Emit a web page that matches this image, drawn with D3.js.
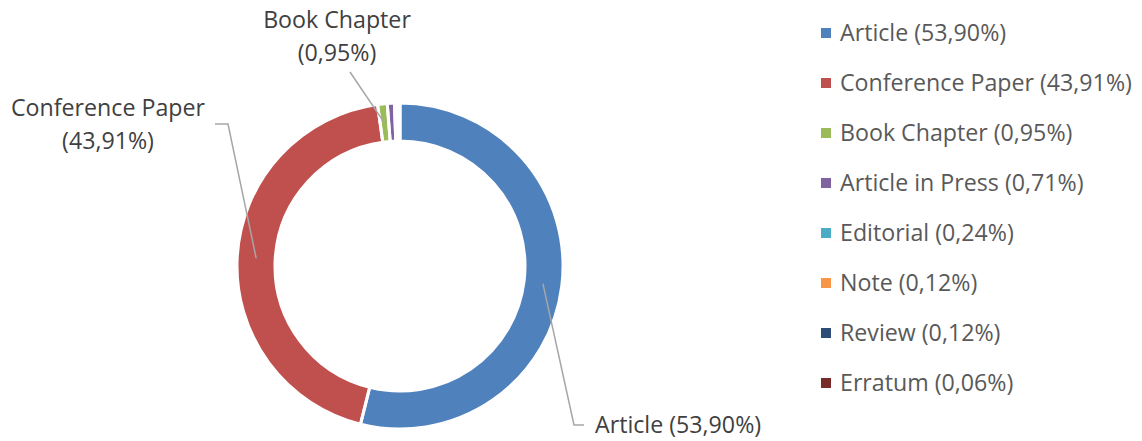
<!DOCTYPE html>
<html>
<head>
<meta charset="utf-8">
<script src="https://cdn.jsdelivr.net/npm/d3@7"></script>
<style>
body{margin:0;background:#fff}
text{font-family:"Open Sans",sans-serif}
</style>
</head>
<body>
<svg id="chart" width="1142" height="441"></svg>
<script>
const categories = ["Article","Conference Paper","Book Chapter","Article in Press","Editorial","Note","Review","Erratum"]
const shares = [53.90, 43.91, 0.95, 0.71, 0.24, 0.12, 0.12, 0.06]
const colors = ["#4F81BD","#C0504D","#9BBB59","#8064A2","#4BACC6","#F79646","#2C4D75","#772C2A"]
const fmt = v => v.toFixed(2).replace(".", ",") + "%"

const svg = d3.select("#chart"),
	cx = 400, cy = 266, rOuter = 163, rInner = 125,
	fontSize = 23.2
const data = categories.map((c,i) => ({name:c, value:shares[i], color:colors[i]}))
const pie = d3.pie().value(d=>d.value).sort(null)
const arc = d3.arc().innerRadius(rInner).outerRadius(rOuter)
const arcs = pie(data)

const g = svg.append("g").attr("transform", `translate(${cx},${cy})`)
g.append("g").selectAll("path")
	.data(arcs).enter().append("path")
	.attr("d", arc).attr("fill", d=>d.data.color)
g.append("g").selectAll("path")
	.data(arcs).enter().append("path")
	.attr("d", arc).attr("fill", "none")
	.attr("stroke", "#fff").attr("stroke-width", 3)

// data labels with leader lines (only for the labelled slices)
const labelled = [
	{i:0, bend:[574-cx,425-cy], end:[584-cx,425-cy], lines:[`Article (${fmt(shares[0])})`], x:595-cx, y:425-cy, anchor:"start"},
	{i:1, bend:[228-cx,124-cy], end:[215-cx,124-cy], lines:["Conference Paper", `(${fmt(shares[1])})`], x:108-cx, y:108-cy, anchor:"middle"},
	{i:2, bend:[350-cx,72-cy], end:null, lines:["Book Chapter", `(${fmt(shares[2])})`], x:337-cx, y:20-cy, anchor:"middle"}
]
const mid = d3.arc().innerRadius((rInner+rOuter)/2).outerRadius((rInner+rOuter)/2)
labelled.forEach(l => {
	const start = mid.centroid(arcs[l.i])
	const pts = [start, l.bend].concat(l.end ? [l.end] : [])
	g.append("path").attr("d", d3.line()(pts))
		.attr("fill","none").attr("stroke","#a6a6a6").attr("stroke-width",1.5)
	const t = g.append("text").attr("text-anchor", l.anchor)
		.attr("fill","#404040").attr("font-size", fontSize)
	l.lines.forEach((s,k) => t.append("tspan").attr("x", l.x).attr("y", l.y + k*33).attr("dy","0.35em").text(s))
})

// legend
const legend = svg.append("g").attr("transform","translate(821,33)")
const rows = legend.selectAll("g").data(data).enter().append("g")
	.attr("transform", (d,i)=>`translate(0,${i*50})`)
rows.append("rect").attr("x",0).attr("y",-5).attr("width",10).attr("height",10).attr("fill",d=>d.color)
rows.append("text").attr("x",19).attr("y",0).attr("dy","0.35em")
	.attr("fill","#595959").attr("font-size",fontSize)
	.text(d=>`${d.name} (${fmt(d.value)})`)
</script>
</body>
</html>
